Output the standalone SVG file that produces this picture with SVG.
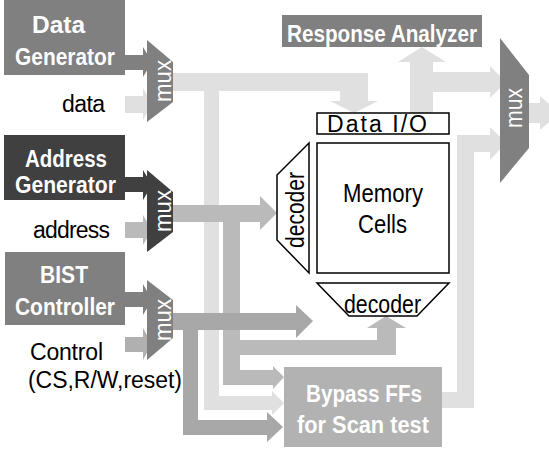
<svg xmlns="http://www.w3.org/2000/svg" width="549" height="451" viewBox="0 0 549 451">
<style>
text{font-family:"Liberation Sans","Noto Sans CJK JP",sans-serif;font-size:23px;}
.w{fill:#ffffff;font-weight:bold;}
.k{fill:#000000;}
.big{font-size:25px;}
.mx{fill:#ffffff;font-size:24px;}
.g5{fill:#808080;}
.g2{fill:#404040;}
.lt{fill:#e0e0e0;}
.m2{fill:#bababa;}
.m3{fill:#a8a8a8;}
.ct{fill:#b0b0b0;}
.bp{fill:#b2b2b2;}
.mem{fill:#ffffff;stroke:#000000;stroke-width:1.5;}
</style>
<rect width="549" height="451" fill="#ffffff"/>
<g id="connectors">
  <path class="g5" d="M125,55 H143 V47 L152,62 L143,77 V70 H125 Z"/>
  <path class="lt" d="M125,96 H143 V88 L152,104 L143,120 V113 H125 Z"/>
  <path class="g2" d="M125,177 H143 V170 L152,185 L143,200 V192 H125 Z"/>
  <path class="m2" d="M125,222 H143 V215 L152,230 L143,245 V238 H125 Z"/>
  <path class="g5" d="M125,292 H143 V284 L152,300 L143,315 V307 H125 Z"/>
  <path class="ct" d="M125,337 H143 V328 L152,344 L143,360 V352 H125 Z"/>
  <path class="lt" d="M173,73 H368 V101 H378 L354,113 L330,101 H340 V91 H219 V396 H272 V391 L284,403 L272,415 V410 H204 V91 H173 Z"/>
  <path class="lt" d="M410,113 V62 H398 L422,47 L446,62 H433 V72 H490 V66 L506,82 L490,98 V92 H433 V113 Z"/>
  <path class="lt" d="M442,392 H457 V135 H490 V127 L506,143 L490,160 V152 H474 V408 H442 Z"/>
  <path class="lt" d="M528,103 H540 V96 L560,113 L540,130 V123 H528 Z"/>
  <path class="m2" d="M173,205 H260 V196 L277,213 L260,230 V222 H240 V340 H377 V328 H367 L386,316 L406,328 H396 V355 H240 V370 H273 V366 L284,377 L273,389 V385 H223 V222 H173 Z"/>
  <path class="m3" d="M173,313 H296 V305 L313,321 L296,338 V330 H198 V420 H267 V412 L283,427 L267,442 V435 H183 V330 H173 Z"/>
</g>
<g id="data-generator">
  <rect class="g5" x="4" y="0" width="121" height="75"/>
  <text class="w" x="32" y="33" textLength="53" lengthAdjust="spacingAndGlyphs">Data</text>
  <text class="w" x="15" y="65" textLength="100" lengthAdjust="spacingAndGlyphs">Generator</text>
</g>
<g id="data-label"><text class="k" x="62" y="112" textLength="43">data</text></g>
<g id="mux1">
  <path class="g5" d="M147,40 L173,62 V102 L147,122 Z"/>
  <text class="mx" transform="translate(171,81) rotate(-90)" text-anchor="middle" textLength="42" lengthAdjust="spacingAndGlyphs">mux</text>
</g>
<g id="address-generator">
  <rect class="g2" x="4" y="135" width="121" height="65"/>
  <text class="w" x="25" y="167" textLength="82" lengthAdjust="spacingAndGlyphs">Address</text>
  <text class="w" x="15" y="193" textLength="101" lengthAdjust="spacingAndGlyphs">Generator</text>
</g>
<g id="address-label"><text class="k" x="33" y="238" textLength="77">address</text></g>
<g id="mux2">
  <path class="g2" d="M147,170 L173,192 V232 L147,252 Z"/>
  <text class="mx" transform="translate(171,211) rotate(-90)" text-anchor="middle" textLength="42" lengthAdjust="spacingAndGlyphs">mux</text>
</g>
<g id="bist-controller">
  <rect class="g5" x="5" y="252" width="120" height="73"/>
  <text class="w" x="40" y="283" textLength="48" lengthAdjust="spacingAndGlyphs">BIST</text>
  <text class="w" x="15" y="315" textLength="100" lengthAdjust="spacingAndGlyphs">Controller</text>
</g>
<g id="control-label">
  <text class="k" x="30" y="360" textLength="73">Control</text>
  <text class="k" x="28" y="388" textLength="154">(CS,R/W,reset)</text>
</g>
<g id="mux3">
  <path class="g5" d="M147,280 L173,300 V338 L147,360 Z"/>
  <text class="mx" transform="translate(171,320) rotate(-90)" text-anchor="middle" textLength="42" lengthAdjust="spacingAndGlyphs">mux</text>
</g>
<g id="response-analyzer">
  <rect class="g5" x="282" y="15" width="200" height="32"/>
  <text class="w" x="287" y="42" textLength="190" lengthAdjust="spacingAndGlyphs">Response Analyzer</text>
</g>
<g id="mux-out">
  <path class="g5" d="M500,38 L529,75 V148 L500,183 Z"/>
  <text class="mx" transform="translate(522,108) rotate(-90)" text-anchor="middle" textLength="40" lengthAdjust="spacingAndGlyphs">mux</text>
</g>
<g id="data-io">
  <rect class="mem" x="317" y="113" width="132" height="21"/>
  <text class="k" x="327" y="132" textLength="100">Data I/O</text>
</g>
<g id="memory-cells">
  <rect class="mem" x="317" y="143" width="132" height="130"/>
  <text class="k big" x="343" y="202" textLength="80" lengthAdjust="spacingAndGlyphs">Memory</text>
  <text class="k big" x="358" y="233" textLength="49" lengthAdjust="spacingAndGlyphs">Cells</text>
</g>
<g id="row-decoder">
  <path class="mem" d="M309,143 V273 L277,240 V175 Z"/>
  <text class="k big" transform="translate(304,210) rotate(-90)" text-anchor="middle" textLength="76" lengthAdjust="spacingAndGlyphs">decoder</text>
</g>
<g id="column-decoder">
  <path class="mem" d="M317,283 H449 L417,316 H349 Z"/>
  <text class="k big" x="344" y="313" textLength="77" lengthAdjust="spacingAndGlyphs">decoder</text>
</g>
<g id="bypass-ffs">
  <rect class="bp" x="284" y="367" width="158" height="80"/>
  <text class="w" x="306" y="402" textLength="116" lengthAdjust="spacingAndGlyphs">Bypass FFs</text>
  <text class="w" x="297" y="433" textLength="132" lengthAdjust="spacingAndGlyphs">for Scan test</text>
</g>
</svg>
